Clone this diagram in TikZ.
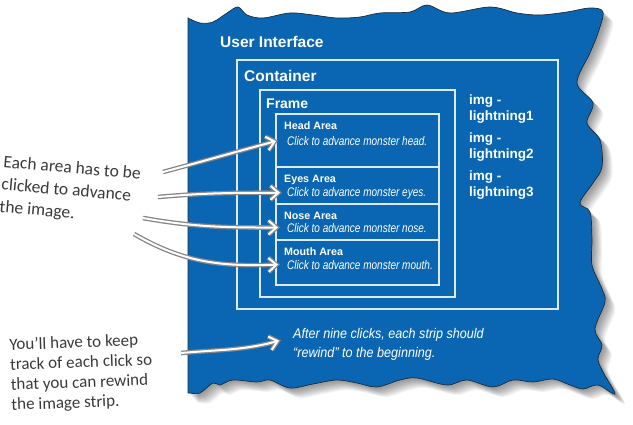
\documentclass[tikz,border=0pt]{standalone}
\usepackage{fontspec}
\setmainfont{Liberation Sans}
\newfontfamily\clickfont[FakeStretch=0.8]{Liberation Sans}
\newfontfamily\notefont[FakeStretch=0.9]{Liberation Sans}
\newfontfamily\handfont{Carlito}
\usetikzlibrary{arrows.meta,positioning}
\definecolor{uiBlue}{HTML}{0A66B2}
\definecolor{uiLine}{HTML}{DCEBF7}
\definecolor{uiEdge}{HTML}{1B2B3A}
\definecolor{penGray}{HTML}{858585}
\definecolor{inkGray}{HTML}{3A3A3A}
\tikzset{
  title/.style={font=\bfseries\fontsize{15.5}{18}\selectfont, text=white,
                anchor=base west, inner sep=0pt},
  frametitle/.style={title, font=\bfseries\fontsize{14}{16}\selectfont},
  areatitle/.style={title, font=\bfseries\fontsize{10.7}{12}\selectfont},
  areaclick/.style={font=\clickfont\itshape\fontsize{12.5}{14}\selectfont,
                    text=white, anchor=base west, inner sep=0pt},
  imgname/.style={font=\bfseries\fontsize{13.5}{15.5}\selectfont, text=white,
                  align=left, anchor=north west, inner sep=0pt},
  rewindnote/.style={font=\notefont\itshape\fontsize{14}{19}\selectfont,
                     text=white, align=left, anchor=north west, inner sep=0pt},
  hand/.style={font=\handfont\fontsize{17.5}{22.5}\selectfont, text=inkGray,
               align=left, anchor=north west, inner sep=0pt},
  frameline/.style={draw=uiLine, line width=1.1pt},
  pen/.style={penGray, line width=4.6pt,
              -{Straight Barb[length=8pt, width=14pt]},
              postaction={draw=white, line width=2pt, shorten >=2pt,
                          -{Straight Barb[length=8pt, width=14pt]}}},
}
% outline of the torn blue panel
\newcommand{\panelpath}{(188,393) -- plot[smooth, tension=0.55] coordinates {
  (188,18) (200,23) (213,22) (227,13) (238,7) (247,15) (263,18) (290,13)
  (313,15) (337,18) (360,17) (380,13) (410,12) (427,5) (450,13) (490,7)
  (517,13) (540,15) (567,12) (590,8) (603,12)
  (598,33) (590,53) (577,83) (593,103) (587,123) (600,140) (602,167)
  (593,183) (580,203) (590,212) (592,239) (592,265) (602,289) (605,302)
  (595,329) (602,345) (598,359) (603,372) (615,394)
  (598,385) (583,389) (570,385) (553,379) (533,382) (513,380) (493,387)
  (467,380) (447,385) (417,378) (400,380) (377,387) (357,383) (337,380)
  (313,384) (290,388) (270,380) (257,382) (233,380) (220,385) (213,383)
  (200,393) (190,393)} -- cycle}

\begin{document}
\begin{tikzpicture}[x=1pt, y=-1pt]
  \useasboundingbox (0,0) rectangle (633,424);
  % shadow and panel
  \foreach \s in {2,...,10}
    \fill[black, opacity=0.05, xshift=\s pt, yshift=-\s pt] \panelpath;
  \filldraw[fill=uiBlue, draw=uiEdge, line width=0.7pt] \panelpath;

  % nested boxes
  \draw[frameline] (237,60) rectangle (558,309);
  \draw[frameline] (260,90) rectangle (455,297);
  \draw[frameline] (276,114) rectangle (439,285);
  \foreach \y in {167,204,240}
    \draw[frameline] (276,\y) -- (439,\y);

  \node[title] (ui) at (220,47) {User Interface};
  \node[title] (container) at (244,81) {Container};
  \node[frametitle] (frame) at (266,108) {Frame};

  \node[areatitle] (headarea) at (284,129) {Head Area};
  \node[areaclick] (headclick) at (287,145) {Click to advance monster head.};
  \node[areatitle] (eyesarea) at (284,182) {Eyes Area};
  \node[areaclick] (eyesclick) at (287,196) {Click to advance monster eyes.};
  \node[areatitle] (nosearea) at (284,219) {Nose Area};
  \node[areaclick] (noseclick) at (287,232) {Click to advance monster nose.};
  \node[areatitle] (moutharea) at (284,255) {Mouth Area};
  \node[areaclick] (mouthclick) at (287,269) {Click to advance monster mouth.};

  \node[imgname] (img1) at (469,95) {img -\\lightning1};
  \node[imgname] (img2) at (469,133) {img -\\lightning2};
  \node[imgname] (img3) at (469,171) {img -\\lightning3};

  \node[rewindnote] (rewind) at (293,328)
    {After nine clicks, each strip should\\“rewind” to the beginning.};

  % handwritten notes
  \node[hand, rotate=-5] (areanote) at (4,155)
    {Each area has to be\\clicked to advance\\the image.};
  \node[hand, rotate=2, font=\handfont\fontsize{17}{20}\selectfont]
    (clicknote) at (9,338)
    {You’ll have to keep\\track of each click so\\that you can rewind\\the image strip.};

  \coordinate (h1) at (163,172);
  \coordinate (h2) at (158,197);
  \coordinate (h3) at (143,218);
  \coordinate (h4) at (134,234);
  \coordinate (h5) at (181,353);
  \draw[pen] (h1) to[out=15, in=195] ([xshift=-9pt]headclick.west);
  \draw[pen] (h2) to[out=5, in=180] ([xshift=-5pt]eyesclick.west);
  \draw[pen] (h3) to[out=-10, in=180] ([xshift=-7pt]noseclick.west);
  \draw[pen] (h4) to[out=-30, in=182] ([xshift=-7pt]mouthclick.west);
  \draw[pen] (h5) to[out=5, in=195] ([xshift=-12pt, yshift=4pt]rewind.west);
\end{tikzpicture}
\end{document}
